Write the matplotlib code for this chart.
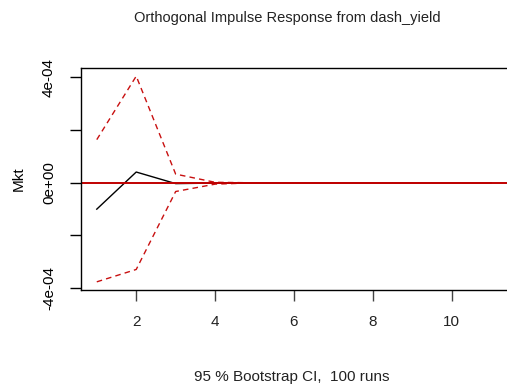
import matplotlib.pyplot as plt

plt.rcParams['font.family'] = ['Liberation Sans', 'DejaVu Sans']

# horizon steps and responses (in units of 1e-4)
steps = [1, 2, 3, 4, 5, 6, 7, 8, 9, 10, 11]
irf = [-1.00, 0.41, -0.03, -0.01, 0.0, 0.0, 0.0, 0.0, 0.0, 0.0, 0.0]
upper = [1.64, 4.05, 0.33, 0.02, 0.0, 0.0, 0.0, 0.0, 0.0, 0.0, 0.0]
lower = [-3.76, -3.29, -0.33, -0.05, 0.0, 0.0, 0.0, 0.0, 0.0, 0.0, 0.0]

yticks = [-4, -2, 0, 2, 4]
ytick_labels = ['-4e-04', '', '0e+00', '', '4e-04']
xticks = [2, 4, 6, 8, 10]

fig = plt.figure(figsize=(5.07, 3.92), dpi=100)
ax = fig.add_axes([81 / 507, 1 - 290 / 392, 1 - 81 / 507, (290 - 68) / 392])

ax.plot(steps, irf, color='black', lw=1)
ax.plot(steps, upper, color='#c81010', lw=1, ls=(0, (4, 3)))
ax.plot(steps, lower, color='#c81010', lw=1, ls=(0, (4, 3)))
ax.axhline(0, color='#c00000', lw=1.4)

ax.set_xlim(0.6, 11.4)
ax.set_ylim(-4.07, 4.36)
ax.set_xticks(xticks)
ax.set_yticks(yticks)
ax.set_yticklabels(ytick_labels, rotation=90, va='center')
ax.tick_params(axis='both', direction='out', length=8, width=1, labelsize=11, pad=10)
ax.tick_params(axis='x', colors='#444444', labelcolor='#222222')
for s in ax.spines.values():
    s.set_linewidth(1)
ax.spines['right'].set_visible(False)

ax.set_ylabel('Mkt', fontsize=11, labelpad=12)
fig.text(287 / 507, 1 - 18 / 392, 'Orthogonal Impulse Response from dash_yield',
         ha='center', va='center', fontsize=10.5, color='#222222')
fig.text(292 / 507, 1 - 377 / 392, '95 % Bootstrap CI,  100 runs',
         ha='center', va='center', fontsize=11, color='#222222')

fig.savefig('out.png', dpi=100)
